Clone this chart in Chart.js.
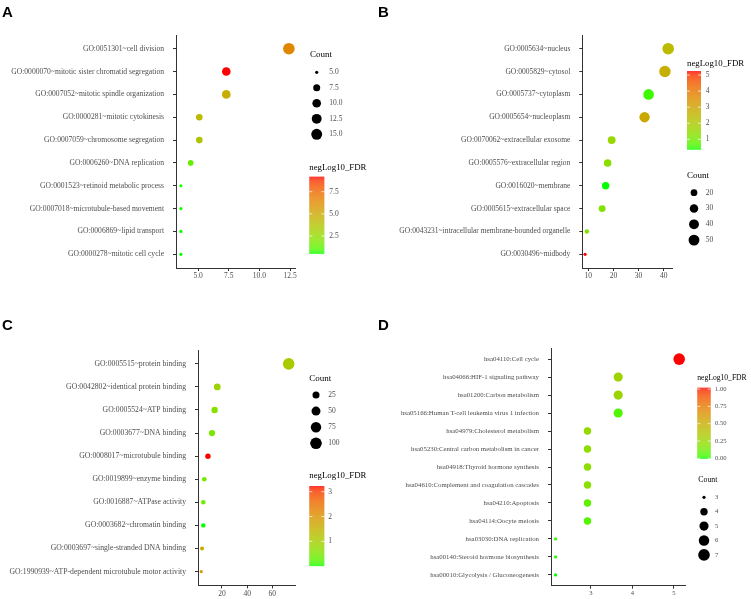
<!DOCTYPE html>
<html>
<head>
<meta charset="utf-8">
<script src="https://cdn.jsdelivr.net/npm/chart.js@4.4.0/dist/chart.umd.min.js"></script>
<style>
  body { margin: 0; background: #fff; width: 751px; height: 599px; position: relative; overflow: hidden; }
  canvas { position: absolute; }
</style>
</head>
<body>
<canvas id="panelA" width="375" height="290" style="left:0;top:0"></canvas>
<canvas id="panelB" width="376" height="290" style="left:375px;top:0"></canvas>
<canvas id="panelC" width="375" height="309" style="left:0;top:290px"></canvas>
<canvas id="panelD" width="376" height="309" style="left:375px;top:290px"></canvas>
<script>
// ---- A: biological process ----
const termsA = [
  "GO:0051301~cell division",
  "GO:0000070~mitotic sister chromatid segregation",
  "GO:0007052~mitotic spindle organization",
  "GO:0000281~mitotic cytokinesis",
  "GO:0007059~chromosome segregation",
  "GO:0006260~DNA replication",
  "GO:0001523~retinoid metabolic process",
  "GO:0007018~microtubule-based movement",
  "GO:0006869~lipid transport",
  "GO:0000278~mitotic cell cycle",
];
const pctA = [12.4, 7.3, 7.3, 5.1, 5.1, 4.4, 3.6, 3.6, 3.6, 3.6];
const countA = [17, 10, 10, 7, 7, 6, 5, 5, 5, 5];
const fdrA = [6.4, 9.19, 4.8, 4.2, 3.7, 1.4, 0.6, 0.58, 0.57, 0.55];
const xTicksA = [5, 7.5, 10, 12.5];
const sizeBreaksA = [5, 7.5, 10, 12.5, 15];
const fdrBreaksA = [2.5, 5, 7.5];

// ---- B: cellular component ----
const termsB = [
  "GO:0005634~nucleus",
  "GO:0005829~cytosol",
  "GO:0005737~cytoplasm",
  "GO:0005654~nucleoplasm",
  "GO:0070062~extracellular exosome",
  "GO:0005576~extracellular region",
  "GO:0016020~membrane",
  "GO:0005615~extracellular space",
  "GO:0043231~intracellular membrane-bounded organelle",
  "GO:0030496~midbody",
];
const pctB = [41.8, 40.5, 34.0, 32.4, 19.3, 17.7, 16.9, 15.5, 9.4, 8.7];
const countB = [57, 55, 47, 44, 26, 24, 23, 21, 13, 12];
const fdrB = [2.4, 2.7, 0.55, 2.9, 1.6, 1.35, 0.38, 1.25, 1.3, 5.25];
const xTicksB = [10, 20, 30, 40];
const sizeBreaksB = [20, 30, 40, 50];
const fdrBreaksB = [1, 2, 3, 4, 5];

// ---- C: molecular function ----
const termsC = [
  "GO:0005515~protein binding",
  "GO:0042802~identical protein binding",
  "GO:0005524~ATP binding",
  "GO:0003677~DNA binding",
  "GO:0008017~microtubule binding",
  "GO:0019899~enzyme binding",
  "GO:0016887~ATPase activity",
  "GO:0003682~chromatin binding",
  "GO:0003697~single-stranded DNA binding",
  "GO:1990939~ATP-dependent microtubule motor activity",
];
const pctC = [73.0, 16.3, 14.2, 12.1, 8.9, 6.0, 5.2, 5.2, 4.2, 3.6];
const countC = [100, 22, 19, 17, 12, 8, 7, 7, 6, 5];
const fdrC = [1.07, 0.88, 0.6, 0.5, 3.23, 0.45, 0.4, 0.01, 1.62, 1.94];
const xTicksC = [20, 40, 60];
const sizeBreaksC = [25, 50, 75, 100];
const fdrBreaksC = [1, 2, 3];

// ---- D: KEGG pathways ----
const termsD = [
  "hsa04110:Cell cycle",
  "hsa04066:HIF-1 signaling pathway",
  "hsa01200:Carbon metabolism",
  "hsa05166:Human T-cell leukemia virus 1 infection",
  "hsa04979:Cholesterol metabolism",
  "hsa05230:Central carbon metabolism in cancer",
  "hsa04918:Thyroid hormone synthesis",
  "hsa04610:Complement and coagulation cascades",
  "hsa04210:Apoptosis",
  "hsa04114:Oocyte meiosis",
  "hsa03030:DNA replication",
  "hsa00140:Steroid hormone biosynthesis",
  "hsa00010:Glycolysis / Gluconeogenesis",
];
const pctD = [5.13, 3.66, 3.66, 3.66, 2.92, 2.92, 2.92, 2.92, 2.92, 2.92, 2.15, 2.15, 2.15];
const countD = [7, 5, 5, 5, 4, 4, 4, 4, 4, 4, 3, 3, 3];
const fdrD = [1.02, 0.28, 0.27, 0.06, 0.24, 0.22, 0.21, 0.2, 0.09, 0.07, 0.03, 0.02, 0.0];
const xTicksD = [3, 4, 5];
const sizeBreaksD = [3, 4, 5, 6, 7];
const fdrBreaksD = [0, 0.25, 0.5, 0.75, 1];

const SERIF = '"Liberation Serif", "Times New Roman", serif';
const R_MIN = 1.6, R_MAX = 5.8;

// green -> red, interpolated in Lab like ggplot's scale_colour_gradient
function toLab(rgb) {
  const lin = rgb.map(c => { c /= 255; return c <= 0.04045 ? c / 12.92 : Math.pow((c + 0.055) / 1.055, 2.4); });
  const X = (0.4124564 * lin[0] + 0.3575761 * lin[1] + 0.1804375 * lin[2]) / 0.95047;
  const Y = 0.2126729 * lin[0] + 0.7151522 * lin[1] + 0.0721750 * lin[2];
  const Z = (0.0193339 * lin[0] + 0.1191920 * lin[1] + 0.9503041 * lin[2]) / 1.08883;
  const f = t => t > 0.008856 ? Math.cbrt(t) : 7.787 * t + 16 / 116;
  return [116 * f(Y) - 16, 500 * (f(X) - f(Y)), 200 * (f(Y) - f(Z))];
}
function fromLab([L, a, b]) {
  const fy = (L + 16) / 116, fx = fy + a / 500, fz = fy - b / 200;
  const inv = t => t * t * t > 0.008856 ? t * t * t : (t - 16 / 116) / 7.787;
  const X = inv(fx) * 0.95047, Y = inv(fy), Z = inv(fz) * 1.08883;
  const lin = [
    3.2404542 * X - 1.5371385 * Y - 0.4985314 * Z,
    -0.9692660 * X + 1.8760108 * Y + 0.0415560 * Z,
    0.0556434 * X - 0.2040259 * Y + 1.0572252 * Z,
  ];
  const out = lin.map(c => {
    c = c <= 0.0031308 ? 12.92 * c : 1.055 * Math.pow(c, 1 / 2.4) - 0.055;
    return Math.round(Math.min(1, Math.max(0, c)) * 255);
  });
  return `rgb(${out[0]},${out[1]},${out[2]})`;
}
const LOW = toLab([0, 255, 0]), HIGH = toLab([255, 0, 0]);
const gradient = t => fromLab(LOW.map((v, i) => v + (HIGH[i] - v) * t));

function makePanel(id, p) {
  const n = p.terms.length;
  const cMin = Math.min(...p.counts), cMax = Math.max(...p.counts);
  const fMin = Math.min(...p.fdr), fMax = Math.max(...p.fdr);
  const radius = c => R_MIN + (R_MAX - R_MIN) * Math.sqrt(Math.max(0, c - cMin) / (cMax - cMin));
  const colour = v => gradient((v - fMin) / (fMax - fMin));
  const fs = p.fonts;

  const legends = {
    id: 'legends' + id,
    afterDraw(chart) {
      const ctx = chart.ctx;
      ctx.save();
      ctx.fillStyle = '#000';
      ctx.font = 'bold 15px "Liberation Sans", Arial, sans-serif';
      ctx.textBaseline = 'alphabetic';
      ctx.fillText(p.tag, p.tagPos[0], p.tagPos[1]);

      ctx.textBaseline = 'middle';
      // size legend
      const s = p.sizeLegend;
      ctx.font = fs.count + 'px ' + SERIF;
      ctx.fillText('Count', s.x, s.titleY);
      ctx.font = fs.legend + 'px ' + SERIF;
      p.sizeBreaks.forEach((b, i) => {
        const cy = s.y0 + i * s.dy;
        ctx.fillStyle = '#000';
        ctx.beginPath();
        ctx.arc(s.cx, cy, radius(b), 0, Math.PI * 2);
        ctx.fill();
        ctx.fillStyle = '#4d4d4d';
        ctx.fillText(b.toFixed(p.sizeDigits), s.lx, cy);
      });

      // colour bar
      const c = p.colourLegend;
      ctx.fillStyle = '#000';
      ctx.font = fs.fdr + 'px ' + SERIF;
      ctx.fillText('negLog10_FDR', c.x, c.titleY);
      const h = c.bottom - c.top;
      for (let y = 0; y < h; y += 0.5) {
        ctx.fillStyle = gradient(1 - y / h);
        ctx.fillRect(c.x, c.top + y, c.w, 0.6);
      }
      ctx.font = fs.legend + 'px ' + SERIF;
      p.fdrBreaks.forEach(b => {
        const y = c.bottom - (b - fMin) / (fMax - fMin) * h;
        ctx.strokeStyle = 'rgba(255,255,255,0.9)';
        ctx.lineWidth = 0.8;
        ctx.beginPath();
        ctx.moveTo(c.x, y); ctx.lineTo(c.x + 3, y);
        ctx.moveTo(c.x + c.w - 3, y); ctx.lineTo(c.x + c.w, y);
        ctx.stroke();
        ctx.fillStyle = '#4d4d4d';
        ctx.fillText(b.toFixed(p.fdrDigits), c.lx, y);
      });
      ctx.restore();
    }
  };

  new Chart(document.getElementById(id), {
    type: 'bubble',
    data: {
      datasets: [{
        data: p.pct.map((x, i) => ({ x: x, y: i, r: radius(p.counts[i]) })),
        backgroundColor: p.fdr.map(colour),
        borderWidth: 0,
        hoverBorderWidth: 0,
        clip: false,
      }],
    },
    options: {
      responsive: false,
      animation: false,
      devicePixelRatio: 1,
      layout: { autoPadding: false, padding: { left: 0, top: p.area.top, right: p.area.right, bottom: 0 } },
      plugins: { legend: { display: false }, tooltip: { enabled: false } },
      scales: {
        x: {
          type: 'linear',
          min: p.xRange[0],
          max: p.xRange[1],
          afterBuildTicks: sc => { sc.ticks = p.xTicks.map(v => ({ value: v })); },
          afterFit: sc => { sc.height = p.area.xHeight; },
          ticks: {
            callback: v => v.toFixed(p.xDigits),
            font: { family: SERIF, size: fs.legend },
            color: '#4d4d4d',
            padding: 1,
            maxRotation: 0,
          },
          grid: { drawOnChartArea: false, drawTicks: true, tickLength: 3, color: '#333' },
          border: { display: true, color: '#333', width: 1 },
        },
        y: {
          type: 'linear',
          reverse: true,
          min: -0.6,
          max: n - 0.4,
          afterBuildTicks: sc => { sc.ticks = p.terms.map((t, i) => ({ value: i })); },
          afterFit: sc => { sc.width = p.area.left; },
          ticks: {
            callback: v => p.terms[v] ?? '',
            font: { family: SERIF, size: fs.label },
            color: '#4d4d4d',
            padding: 9,
            autoSkip: false,
          },
          grid: { drawOnChartArea: false, drawTicks: true, tickLength: 3, color: '#333' },
          border: { display: true, color: '#333', width: 1 },
        },
      },
    },
    plugins: [legends],
  });
}

makePanel('panelA', {
  tag: 'A', tagPos: [2, 17],
  terms: termsA, pct: pctA, counts: countA, fdr: fdrA,
  xTicks: xTicksA, xDigits: 1, xRange: [3.2, 12.9],
  sizeBreaks: sizeBreaksA, sizeDigits: 1, fdrBreaks: fdrBreaksA, fdrDigits: 1,
  fonts: { label: 7.6, legend: 7.5, count: 9, fdr: 8.8 },
  area: { left: 176, top: 35, right: 80, xHeight: 22 },
  sizeLegend: { x: 310, titleY: 55, cx: 316.7, y0: 72.3, dy: 15.5, lx: 329.3 },
  colourLegend: { x: 309.3, titleY: 167.7, w: 15, top: 176.7, bottom: 253.3, lx: 329.3 },
});

makePanel('panelB', {
  tag: 'B', tagPos: [3, 17],
  terms: termsB, pct: pctB, counts: countB, fdr: fdrB,
  xTicks: xTicksB, xDigits: 0, xRange: [7.6, 43.6],
  sizeBreaks: sizeBreaksB, sizeDigits: 0, fdrBreaks: fdrBreaksB, fdrDigits: 0,
  fonts: { label: 7.5, legend: 7.5, count: 9, fdr: 8.8 },
  area: { left: 207.3, top: 35, right: 78.3, xHeight: 22 },
  sizeLegend: { x: 312, titleY: 176, cx: 319, y0: 192.7, dy: 15.8, lx: 330.7 },
  colourLegend: { x: 312, titleY: 63.3, w: 14, top: 71, bottom: 149.3, lx: 330.7 },
});

makePanel('panelC', {
  tag: 'C', tagPos: [2, 40],
  terms: termsC, pct: pctC, counts: countC, fdr: fdrC,
  xTicks: xTicksC, xDigits: 0, xRange: [1, 78],
  sizeBreaks: sizeBreaksC, sizeDigits: 0, fdrBreaks: fdrBreaksC, fdrDigits: 0,
  fonts: { label: 7.7, legend: 7.5, count: 9, fdr: 8.8 },
  area: { left: 198, top: 60, right: 80, xHeight: 11.3 },
  sizeLegend: { x: 309.3, titleY: 88.3, cx: 316, y0: 105, dy: 16.1, lx: 328.3 },
  colourLegend: { x: 309.3, titleY: 186, w: 15, top: 196, bottom: 276, lx: 328.3 },
});

makePanel('panelD', {
  tag: 'D', tagPos: [3, 40],
  terms: termsD, pct: pctD, counts: countD, fdr: fdrD,
  xTicks: xTicksD, xDigits: 0, xRange: [2.04, 5.27],
  sizeBreaks: sizeBreaksD, sizeDigits: 0, fdrBreaks: fdrBreaksD, fdrDigits: 2,
  fonts: { label: 6.8, legend: 6.6, count: 7.8, fdr: 7.6 },
  area: { left: 176, top: 58.3, right: 66, xHeight: 13.3 },
  sizeLegend: { x: 323.3, titleY: 190, cx: 329, y0: 207.3, dy: 14.4, lx: 340 },
  colourLegend: { x: 322.3, titleY: 88.3, w: 13.4, top: 97.7, bottom: 168.3, lx: 340 },
});
</script>
</body>
</html>
